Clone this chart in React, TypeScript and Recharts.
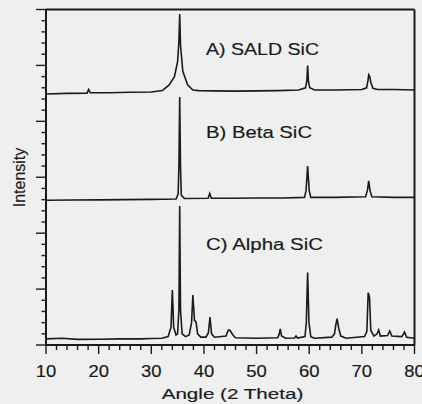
import { ComposedChart, Line, Scatter, XAxis, YAxis, ReferenceLine } from 'recharts'

// angle (2 theta), stacked intensity value
const saldAngles = [10, 14, 17.8, 18.1, 18.4, 22, 26, 30, 32.1, 33.4, 34.4, 35.0, 35.25, 35.4, 35.55, 36.0, 36.9, 37.9, 39, 42, 46, 50, 54, 58, 59.3, 59.55, 59.7, 59.85, 60.1, 61, 65, 70, 70.9, 71.15, 71.3, 71.5, 71.7, 72.1, 73, 76, 80]
const saldValues = [22.45, 22.5, 22.52, 22.85, 22.55, 22.55, 22.6, 22.62, 22.75, 23.26, 24.0, 25.34, 27.2, 29.6, 26.8, 24.45, 23.26, 22.8, 22.75, 22.72, 22.7, 22.72, 22.75, 22.8, 23.0, 23.6, 24.98, 23.6, 23.0, 22.8, 22.8, 22.85, 23.0, 23.6, 24.15, 24.0, 23.5, 22.95, 22.85, 22.85, 22.8]

const betaAngles = [10, 15, 20, 25, 30, 34.7, 35.1, 35.25, 35.4, 35.55, 35.7, 36.3, 40.8, 41.1, 41.4, 45, 50, 55, 59.1, 59.4, 59.7, 60.0, 60.3, 65, 70.7, 71.05, 71.3, 71.55, 71.9, 76, 80]
const betaValues = [12.95, 12.97, 12.98, 13.0, 13.02, 13.05, 13.5, 16, 22.18, 16, 13.4, 13.1, 13.12, 13.55, 13.12, 13.12, 13.15, 13.15, 13.2, 13.8, 16.0, 13.8, 13.2, 13.2, 13.25, 13.8, 14.67, 13.8, 13.25, 13.2, 13.2]

const alphaAngles = [10, 13, 16, 20, 24, 28, 30, 32, 33.2, 33.75, 34.0, 34.25, 34.7, 35.0, 35.25, 35.4, 35.55, 35.85, 36.5, 37.2, 37.65, 37.9, 38.2, 38.5, 38.8, 39.4, 40.4, 40.85, 41.15, 41.45, 42, 44.2, 44.6, 44.85, 45.1, 45.5, 46, 50, 54.0, 54.25, 54.5, 54.75, 55.5, 57.2, 57.5, 57.8, 59.2, 59.45, 59.7, 59.95, 60.3, 61, 64.3, 64.8, 65.05, 65.3, 65.6, 66.0, 67, 70.5, 70.95, 71.2, 71.45, 71.7, 72.3, 72.9, 73.2, 73.5, 74.9, 75.3, 75.7, 77.6, 78.1, 78.5, 80]
const alphaValues = [0.55, 0.6, 0.5, 0.52, 0.55, 0.55, 0.58, 0.6, 0.75, 1.6, 4.92, 1.6, 0.9, 1.0, 3.2, 12.43, 3.2, 1.0, 0.75, 0.9, 2.0, 4.47, 2.2, 2.06, 1.0, 0.7, 0.7, 1.1, 2.5, 1.0, 0.7, 0.8, 1.3, 1.34, 1.2, 0.9, 0.65, 0.6, 0.65, 0.9, 1.43, 0.8, 0.6, 0.62, 0.8, 0.62, 0.75, 2.0, 6.47, 2.0, 0.75, 0.6, 0.7, 1.0, 1.8, 2.35, 1.5, 0.8, 0.6, 0.75, 1.2, 4.68, 4.3, 1.3, 0.8, 1.0, 1.34, 0.8, 0.85, 1.25, 0.8, 0.75, 1.16, 0.7, 0.6]

const panelNames = ['A) SALD SiC', 'B) Beta SiC', 'C) Alpha SiC']
const panelAngle = [40.4, 40.4, 40.4]
const panelLevel = [25.9, 18.5, 8.5]
const panelWidth = [113, 106, 117]

const xTicks = [10, 12, 14, 16, 18, 20, 22, 24, 26, 28, 30, 32, 34, 36, 38, 40, 42, 44, 46, 48, 50, 52, 54, 56, 58, 60, 62, 64, 66, 68, 70, 72, 74, 76, 78, 80]
const yTicks = [0, 1, 2, 3, 4, 5, 6, 7, 8, 9, 10, 11, 12, 13, 14, 15, 16, 17, 18, 19, 20, 21, 22, 23, 24, 25, 26, 27, 28, 29, 30]

const toPoints = (angles: number[], values: number[]) => angles.map((a, i) => ({ a, v: values[i] }))
const sald = toPoints(saldAngles, saldValues)
const beta = toPoints(betaAngles, betaValues)
const alpha = toPoints(alphaAngles, alphaValues)
const panels = panelNames.map((name, i) => ({ a: panelAngle[i], v: panelLevel[i], name, w: panelWidth[i] }))

const ink = '#1a1a1a'
const font = '"Liberation Sans", Arial, sans-serif'
// scanned text is a little heavier than a clean render
const textInk = { fill: ink, stroke: ink, strokeWidth: 0.18 }

function XTick ({ x, y, payload }: any) {
  const major = payload.value % 10 === 0
  return (
    <g>
      <line x1={x} x2={x} y1={y} y2={y + (major ? 9 : 5)} stroke={ink} strokeWidth={1.4} />
      {major && (
        <text x={x} y={y + 31.7} textAnchor="middle" fontFamily={font} fontSize={16.5} {...textInk}
          textLength={20.5} lengthAdjust="spacingAndGlyphs">{payload.value}</text>
      )}
    </g>
  )
}

function YTick ({ x, y, payload }: any) {
  const major = payload.value % 5 === 0
  return <line x1={x} x2={x - (major ? 10 : 4.5)} y1={y} y2={y} stroke={ink} strokeWidth={1.4} />
}

function PanelLabel ({ cx, cy, payload }: any) {
  return (
    <text x={cx} y={cy} fontFamily={font} fontSize={17} {...textInk}
      textLength={payload.w} lengthAdjust="spacingAndGlyphs">{payload.name}</text>
  )
}

export default function App () {
  return (
    <div style={{ position: 'absolute', left: 0, top: 0, width: 422, height: 404, background: '#efefef', overflow: 'hidden' }}>
      <ComposedChart width={422} height={404} margin={{ top: 9.5, right: 7.5, left: 10, bottom: 29 }}>
        <XAxis dataKey="a" type="number" domain={[10, 80]} allowDataOverflow ticks={xTicks} interval={0}
          tick={<XTick />} tickLine={false} tickSize={0} tickMargin={0} height={30}
          axisLine={{ stroke: ink, strokeWidth: 2 }}
          label={{
            content: () => (
              <text x={232.5} y={399} textAnchor="middle" fontFamily={font} fontSize={15.5} {...textInk}
                textLength={141.7} lengthAdjust="spacingAndGlyphs">Angle (2 Theta)</text>
            )
          }} />
        <YAxis dataKey="v" type="number" domain={[0, 30]} allowDataOverflow ticks={yTicks} interval={0}
          tick={<YTick />} tickLine={false} tickSize={0} tickMargin={0} width={36}
          axisLine={{ stroke: ink, strokeWidth: 2 }}
          label={{
            content: () => (
              <text x={25} y={177.5} transform="rotate(-90 25 177.5)" textAnchor="middle" fontFamily={font}
                fontSize={16} {...textInk}>Intensity</text>
            )
          }} />
        <ReferenceLine y={30} stroke={ink} strokeWidth={2} />
        <ReferenceLine x={80} stroke={ink} strokeWidth={2} />
        <Line data={sald} dataKey="v" type="linear" stroke={ink} strokeWidth={1.6} dot={false} isAnimationActive={false} />
        <Line data={beta} dataKey="v" type="linear" stroke={ink} strokeWidth={1.6} dot={false} isAnimationActive={false} />
        <Line data={alpha} dataKey="v" type="linear" stroke={ink} strokeWidth={1.6} dot={false} isAnimationActive={false} />
        <Scatter data={panels} dataKey="v" shape={<PanelLabel />} isAnimationActive={false} />
      </ComposedChart>
    </div>
  )
}
